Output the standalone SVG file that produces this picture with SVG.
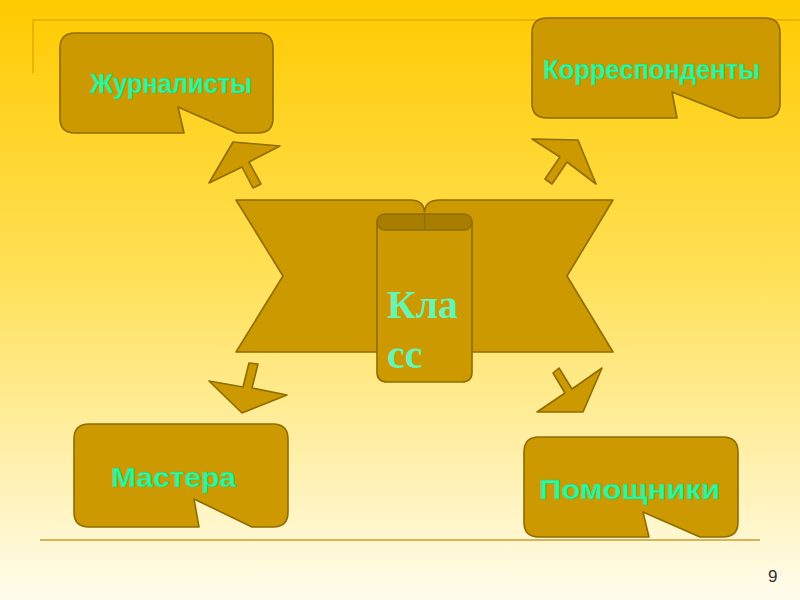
<svg xmlns="http://www.w3.org/2000/svg" width="800" height="600" viewBox="0 0 800 600">
<defs>
<linearGradient id="bg" x1="0" y1="0" x2="0" y2="1">
<stop offset="0" stop-color="#FFCA00"/>
<stop offset="0.45" stop-color="#FFE055"/>
<stop offset="1" stop-color="#FFFCEC"/>
</linearGradient>
<style>
.shape{fill:#CC9900;stroke:#8E6C00;stroke-width:1.6;stroke-linejoin:round}
.cap{fill:#A87E00;stroke:#8E6C00;stroke-width:1.4}
.lbl{font-family:"Liberation Sans",Arial,sans-serif;font-weight:bold;font-size:28px;fill:#33F79A;stroke:#22C878;stroke-width:0.5}
.klass{font-family:"Liberation Serif","Times New Roman",serif;font-weight:bold;font-size:40px;fill:#66F5B5}
.deco{fill:none;stroke:#E0AE00;stroke-width:1.5}
</style>
</defs>
<rect x="0" y="0" width="800" height="600" fill="url(#bg)"/>
<path class="deco" d="M33,73 V20 H800"/>
<line x1="40" y1="540" x2="760" y2="540" stroke="#D9B25A" stroke-width="2"/>
<text x="768" y="582" font-family="Liberation Sans,Arial,sans-serif" font-size="17" fill="#333">9</text>

<g id="connectors">
<polygon class="shape" points="233,142 280,146 249,162 261,184 253,188 242,167 209,183"/>
<polygon class="shape" points="578,140 596,184 567,162 552,184 545,179 560,157 532,139"/>
<polygon class="shape" points="249,363 258,364 252,388 287,395 242,413 209,381 243,387"/>
<polygon class="shape" points="559,368 572,389 602,368 583,412 537,412 565,393 553,373"/>
</g>

<g id="klass">
<path class="shape" d="M236,200 H410 C420,200 424,204 424.5,212 C425,204 430,200 440,200 H613 L567,276 L613,352 H236 L283,276 Z"/>
<path class="shape" d="M377,222 V372 Q377,382 387,382 H462 Q472,382 472,372 V222 Z"/>
<rect class="cap" x="377" y="214" width="95" height="16" rx="8"/>
<line x1="424.5" y1="214" x2="424.5" y2="230" stroke="#8E6C00" stroke-width="1.2"/>
<text class="klass" x="387" y="318" textLength="71" lengthAdjust="spacingAndGlyphs">Кла</text>
<text class="klass" x="387" y="368">сс</text>
</g>

<g id="zhurnalisty">
<path class="shape" d="M75,33 H258 Q273,33 273,48 V118 Q273,133 258,133 H237 L178,107 L184,133 H75 Q60,133 60,118 V48 Q60,33 75,33 Z"/>
<text class="lbl" x="90" y="93" textLength="162" lengthAdjust="spacingAndGlyphs">Журналисты</text>
</g>

<g id="korrespondenty">
<path class="shape" d="M547,18 H765 Q780,18 780,33 V103 Q780,118 765,118 H738 L672,92 L677,118 H547 Q532,118 532,103 V33 Q532,18 547,18 Z"/>
<text class="lbl" x="543" y="79" textLength="217" lengthAdjust="spacingAndGlyphs">Корреспонденты</text>
</g>

<g id="mastera">
<path class="shape" d="M89,424 H273 Q288,424 288,439 V512 Q288,527 273,527 H252 L194,499 L199,527 H89 Q74,527 74,512 V439 Q74,424 89,424 Z"/>
<text class="lbl" x="111" y="487" textLength="125" lengthAdjust="spacingAndGlyphs">Мастера</text>
</g>

<g id="pomoshchniki">
<path class="shape" d="M539,437 H723 Q738,437 738,452 V522 Q738,537 723,537 H700 L643,512 L649,537 H539 Q524,537 524,522 V452 Q524,437 539,437 Z"/>
<text class="lbl" x="539" y="499" textLength="181" lengthAdjust="spacingAndGlyphs">Помощники</text>
</g>
</svg>
